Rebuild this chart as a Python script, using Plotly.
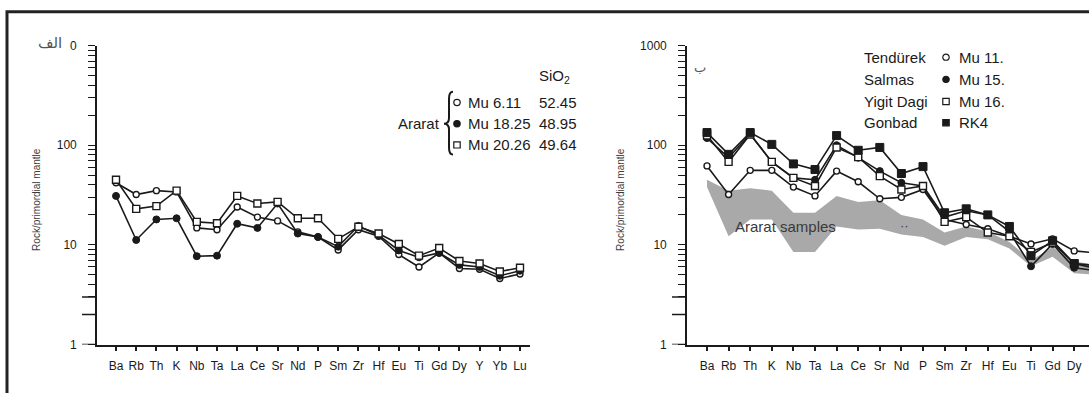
import math
import plotly.graph_objects as go

W, H = 1089, 393

categories = ["Ba", "Rb", "Th", "K", "Nb", "Ta", "La", "Ce", "Sr", "Nd", "P",
              "Sm", "Zr", "Hf", "Eu", "Ti", "Gd", "Dy", "Y", "Yb", "Lu"]

# Left panel (Ararat)
mu_6_11 = [42, 32, 35, 34, 14.8, 14.2, 24, 19, 17.4, 13.5, 12, 8.9, 14.2, 12.2, 8, 6, 8.3, 5.8, 5.7, 4.6, 5.1]
mu_18_25 = [31, 11.2, 18, 18.5, 7.7, 7.8, 16.3, 14.8, 26, 13, 12, 9.6, 15.5, 12.5, 8.8, 7.5, 8.3, 6.3, 6, 4.9, 5.5]
mu_20_26 = [45, 23, 24.5, 35, 17, 16.5, 31, 26, 27, 18.5, 18.5, 11.5, 15.2, 13, 10.2, 7.8, 9.3, 6.9, 6.5, 5.4, 5.9]
sio2_values = ["52.45", "48.95", "49.64"]
left_names = ["Mu 6.11", "Mu 18.25", "Mu 20.26"]

# Right panel (Ba..Y visible)
tendurek = [62, 32, 56, 56, 38, 31, 55, 43, 29, 30, 36, 18, 16, 14.5, 12.2, 10.2, 11.5, 8.7, 8.3]
salmas = [118, 75, 130, 68, 47, 45, 100, 75, 55, 42, 39, 19, 22, 20, 13.6, 6.1, 10.2, 5.9, 5.5]
yigit_dagi = [125, 68, 128, 68, 47, 39, 95, 76, 49, 36, 39, 17, 19, 13.3, 12.2, 8.5, 10.5, 6.5, 5.8]
gonbad = [134, 81, 134, 102, 65, 57, 125, 89, 95, 52, 61, 21, 23, 20, 15.3, 7.8, 11, 6.5, 6.2]
band_upper = [45, 35, 37, 35, 21, 21, 31, 27, 28, 20, 18, 13.3, 15.3, 13.6, 10.7, 7, 9.5, 6.8, 6.3]
band_lower = [38, 12.2, 18, 18, 8.5, 8.5, 15.3, 14.3, 14.5, 12.7, 12, 9.8, 12, 11.4, 9.2, 6.1, 7.6, 5.2, 5]
right_groups = ["Tendürek", "Salmas", "Yigit Dagi", "Gonbad"]
right_names = ["Mu 11.", "Mu 15.", "Mu 16.", "RK4"]

major_ticks = [1, 10, 100, 1000]
left_major_text = ["1", "10", "100", "0"]
right_major_text = ["1", "10", "100", "1000"]
all_ticks = sorted(major_ticks + [m * 10 ** e for e in range(3) for m in range(2, 10)])

FONT = "Liberation Sans, Arial, sans-serif"
INK = "#1a1a1a"


def px(x):
    return x / W


def py(y):
    return 1 - y / H


fig = go.Figure()

xl = list(range(len(categories)))

styles = [
    dict(symbol="circle", size=6, color="white", line=dict(color=INK, width=1.4)),
    dict(symbol="circle", size=7, color=INK, line=dict(color=INK, width=1)),
    dict(symbol="square", size=7, color="white", line=dict(color=INK, width=1.4)),
    dict(symbol="square", size=8, color=INK, line=dict(color=INK, width=1)),
]

for vals, st in zip([mu_6_11, mu_18_25, mu_20_26], styles[:3]):
    fig.add_trace(go.Scatter(x=xl, y=vals, mode="lines+markers", xaxis="x", yaxis="y",
                             line=dict(color=INK, width=1.6), marker=st, showlegend=False))

# right panel: grey band
nr = len(band_upper)
xr = list(range(nr))
fig.add_trace(go.Scatter(x=xr + xr[::-1], y=band_upper + band_lower[::-1], xaxis="x2", yaxis="y2",
                         fill="toself", fillcolor="#a9a9a9", line=dict(width=0), mode="lines",
                         showlegend=False, hoverinfo="skip"))

for vals, st in zip([tendurek, salmas, yigit_dagi, gonbad], styles):
    fig.add_trace(go.Scatter(x=xr, y=vals, mode="lines+markers", xaxis="x2", yaxis="y2",
                             line=dict(color=INK, width=1.6), marker=st, showlegend=False))

# axes geometry (pixels)
L0, L1 = 97, 530
R0, R1 = 687, 1089
T, B = 40, 350
left_step = 20.2
left_ba = 116
right_step = 21.6
right_ba = 707


def tick_text(labels):
    lut = dict(zip(major_ticks, labels))
    return [lut.get(v, "") for v in all_ticks]


common_x = dict(showgrid=False, zeroline=False, showline=True, linecolor=INK, linewidth=1.6,
                ticks="outside", ticklen=5, tickwidth=1.5, tickcolor=INK, ticklabelstandoff=4,
                tickfont=dict(family=FONT, size=12, color=INK), tickmode="array")
common_y = dict(type="log", range=[0, 3], showgrid=False, zeroline=False, showline=True,
                linecolor=INK, linewidth=1.6, ticks="outside", ticklen=7, tickwidth=1.3,
                tickcolor=INK, tickfont=dict(family=FONT, size=12, color=INK),
                ticklabelstandoff=9, tickmode="array", tickvals=all_ticks)

fig.update_layout(
    width=W, height=H, margin=dict(l=0, r=0, t=0, b=0),
    paper_bgcolor="white", plot_bgcolor="white", showlegend=False,
    xaxis=dict(domain=[px(L0), px(L1)],
               range=[(L0 - left_ba) / left_step, (L1 - left_ba) / left_step],
               tickvals=xl, ticktext=categories, anchor="y", **common_x),
    yaxis=dict(domain=[py(B), py(T)], anchor="x", ticktext=tick_text(left_major_text), **common_y),
    xaxis2=dict(domain=[px(R0), px(R1)],
                range=[(R0 - right_ba) / right_step, (R1 - right_ba) / right_step],
                tickvals=xr, ticktext=categories[:nr], anchor="y2", **common_x),
    yaxis2=dict(domain=[py(B), py(T)], anchor="x2", ticktext=tick_text(right_major_text), **common_y),
)

ann = []


def text(x, y, s, size=15, anchor="left", color=INK, family=FONT, angle=0):
    ann.append(dict(x=px(x), y=py(y), xref="paper", yref="paper", text=s, showarrow=False,
                    xanchor=anchor, yanchor="middle", textangle=angle,
                    font=dict(family=family, size=size, color=color)))


# y-axis titles
text(37, 200, "Rock/primordial mantle", size=10, anchor="center", color="#3c3c3c", angle=-90)
text(621, 200, "Rock/primordial mantle", size=10, anchor="center", color="#3c3c3c", angle=-90)

# panel labels (Persian)
text(50, 37, "الف", size=15, anchor="center", color="#555555", family="DejaVu Sans")
text(700, 63, "ب", size=13, anchor="center", color="#555555", family="DejaVu Sans")

# left legend
rows = [99, 121, 143]
text(537, 72, "SiO<sub>2</sub>", size=15)
text(442, 121, "Ararat", size=15, anchor="right")
for yy, nm, sv in zip(rows, left_names, sio2_values):
    text(466, yy, nm, size=15)
    text(537, yy, sv, size=15)

# right legend
rrows = [52, 75, 98, 120]
for yy, g, nm in zip(rrows, right_groups, right_names):
    text(862, yy, g, size=15)
    text(957, yy, nm, size=15)

# band label
text(733, 228, "Ararat samples", size=15, color="#3a3a3a")
text(898, 227, "··", size=13, color="#3a3a3a")

fig.update_layout(annotations=ann)

shapes = []

# long decade ticks on both y axes
for yref, x_axis_px in (("y", L0), ("y2", R0)):
    for v in major_ticks:
        shapes.append(dict(type="line", xref="paper", yref=yref,
                           x0=px(x_axis_px - 15), x1=px(x_axis_px), y0=math.log10(v), y1=math.log10(v),
                           line=dict(color=INK, width=1.5), layer="above"))


def marker_shape(cx, cy, kind, r):
    filled = kind in ("fc", "fs")
    d = dict(xref="paper", yref="paper", x0=px(cx - r), x1=px(cx + r), y0=py(cy + r), y1=py(cy - r),
             line=dict(color=INK, width=1.2), fillcolor=INK if filled else "white")
    d["type"] = "circle" if kind in ("oc", "fc") else "rect"
    shapes.append(d)


for yy, k in zip(rows, ["oc", "fc", "os"]):
    marker_shape(457, yy, k, 3.2)
for yy, k in zip(rrows, ["oc", "fc", "os", "fs"]):
    marker_shape(946, yy, k, 3.2)

# brace
bx, tip = 449, 444
yt, ym, yb = 88, 121, 153
pts = (f"M {px(bx + 4)},{py(yt)} Q {px(bx)},{py(yt)} {px(bx)},{py(yt + 7)} "
       f"L {px(bx)},{py(ym - 6)} Q {px(bx)},{py(ym)} {px(tip)},{py(ym)} "
       f"Q {px(bx)},{py(ym)} {px(bx)},{py(ym + 6)} L {px(bx)},{py(yb - 7)} "
       f"Q {px(bx)},{py(yb)} {px(bx + 4)},{py(yb)}")
shapes.append(dict(type="path", xref="paper", yref="paper", path=pts, line=dict(color=INK, width=2)))

# outer frame (right and bottom edges are outside the picture)
shapes.append(dict(type="rect", xref="paper", yref="paper", x0=px(7), x1=1.02, y0=-0.05, y1=py(5),
                   line=dict(color="#222222", width=3), fillcolor="rgba(0,0,0,0)", layer="above"))

fig.update_layout(shapes=shapes)

fig.write_html("out.html")
